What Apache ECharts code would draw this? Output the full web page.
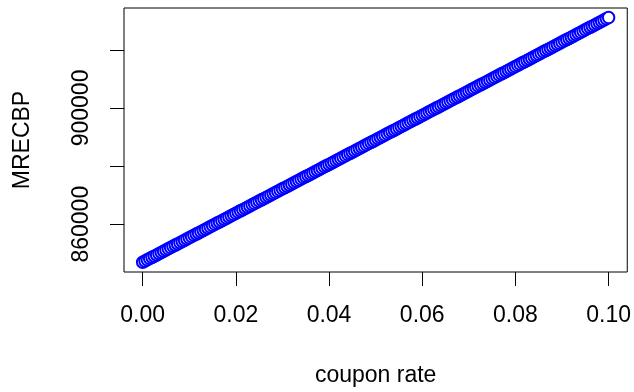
<!DOCTYPE html>
<html>
<head>
<meta charset="utf-8">
<script src="https://cdn.jsdelivr.net/npm/echarts@6/dist/echarts.min.js"></script>
<style>html,body{margin:0;padding:0;background:#fff}#c{width:634px;height:392px}</style>
</head>
<body>
<div id="c"></div>
<script>
var couponRate = [0,0.0005,0.001,0.0015,0.002,0.0025,0.003,0.0035,0.004,0.0045,0.005,0.0055,0.006,0.0065,0.007,0.0075,0.008,0.0085,0.009,0.0095,
0.01,0.0105,0.011,0.0115,0.012,0.0125,0.013,0.0135,0.014,0.0145,0.015,0.0155,0.016,0.0165,0.017,0.0175,0.018,0.0185,0.019,0.0195,
0.02,0.0205,0.021,0.0215,0.022,0.0225,0.023,0.0235,0.024,0.0245,0.025,0.0255,0.026,0.0265,0.027,0.0275,0.028,0.0285,0.029,0.0295,
0.03,0.0305,0.031,0.0315,0.032,0.0325,0.033,0.0335,0.034,0.0345,0.035,0.0355,0.036,0.0365,0.037,0.0375,0.038,0.0385,0.039,0.0395,
0.04,0.0405,0.041,0.0415,0.042,0.0425,0.043,0.0435,0.044,0.0445,0.045,0.0455,0.046,0.0465,0.047,0.0475,0.048,0.0485,0.049,0.0495,
0.05,0.0505,0.051,0.0515,0.052,0.0525,0.053,0.0535,0.054,0.0545,0.055,0.0555,0.056,0.0565,0.057,0.0575,0.058,0.0585,0.059,0.0595,
0.06,0.0605,0.061,0.0615,0.062,0.0625,0.063,0.0635,0.064,0.0645,0.065,0.0655,0.066,0.0665,0.067,0.0675,0.068,0.0685,0.069,0.0695,
0.07,0.0705,0.071,0.0715,0.072,0.0725,0.073,0.0735,0.074,0.0745,0.075,0.0755,0.076,0.0765,0.077,0.0775,0.078,0.0785,0.079,0.0795,
0.08,0.0805,0.081,0.0815,0.082,0.0825,0.083,0.0835,0.084,0.0845,0.085,0.0855,0.086,0.0865,0.087,0.0875,0.088,0.0885,0.089,0.0895,
0.09,0.0905,0.091,0.0915,0.092,0.0925,0.093,0.0935,0.094,0.0945,0.095,0.0955,0.096,0.0965,0.097,0.0975,0.098,0.0985,0.099,0.0995,
0.1];
var mrecbp = [846900,847321,847742,848163,848584,849005,849426,849847,850268,850689,851110,851531,851952,852373,852794,853215,853636,854057,854478,854899,
855320,855741,856162,856583,857004,857425,857846,858267,858688,859109,859530,859951,860372,860793,861214,861635,862056,862477,862898,863319,
863740,864161,864582,865003,865424,865845,866266,866687,867108,867529,867950,868371,868792,869213,869634,870055,870476,870897,871318,871739,
872160,872581,873002,873423,873844,874265,874686,875107,875528,875949,876370,876791,877212,877633,878054,878475,878896,879317,879738,880159,
880580,881001,881422,881843,882264,882685,883106,883527,883948,884369,884790,885211,885632,886053,886474,886895,887316,887737,888158,888579,
889000,889421,889842,890263,890684,891105,891526,891947,892368,892789,893210,893631,894052,894473,894894,895315,895736,896157,896578,896999,
897420,897841,898262,898683,899104,899525,899946,900367,900788,901209,901630,902051,902472,902893,903314,903735,904156,904577,904998,905419,
905840,906261,906682,907103,907524,907945,908366,908787,909208,909629,910050,910471,910892,911313,911734,912155,912576,912997,913418,913839,
914260,914681,915102,915523,915944,916365,916786,917207,917628,918049,918470,918891,919312,919733,920154,920575,920996,921417,921838,922259,
922680,923101,923522,923943,924364,924785,925206,925627,926048,926469,926890,927311,927732,928153,928574,928995,929416,929837,930258,930679,
931100];
var xTicks = [0, 0.02, 0.04, 0.06, 0.08, 0.10];
var xTickLabels = ['0.00', '0.02', '0.04', '0.06', '0.08', '0.10'];
var yTicks = [860000, 880000, 900000, 920000];
var yLabelTicks = [860000, 900000];
var xName = 'coupon rate';
var yName = 'MRECBP';

var points = couponRate.map(function (r, i) { return [r, mrecbp[i]]; });
var font = '"Liberation Sans", Arial, sans-serif';
var chart = echarts.init(document.getElementById('c'));
chart.setOption({
  backgroundColor: '#fff',
  animation: false,
  grid: { left: 124, right: 3, top: 8, bottom: 119, show: true, borderColor: '#000', borderWidth: 1, backgroundColor: 'transparent' },
  xAxis: {
    type: 'value', min: -0.004, max: 0.104,
    splitLine: { show: false },
    axisLine: { show: false, onZero: false },
    axisTick: { show: true, length: 14, lineStyle: { color: '#000' }, customValues: xTicks },
    axisLabel: {
      customValues: xTicks, margin: 32, color: '#000', fontSize: 23, fontFamily: font,
      formatter: function (v) { var i = xTicks.findIndex(function (t) { return Math.abs(t - v) < 1e-9; }); return i >= 0 ? xTickLabels[i] : ''; }
    },
    name: xName, nameLocation: 'middle', nameGap: 92,
    nameTextStyle: { color: '#000', fontSize: 23, fontFamily: font }
  },
  yAxis: {
    type: 'value', min: 843543, max: 934400,
    splitLine: { show: false },
    axisLine: { show: false, onZero: false },
    axisTick: { show: true, length: 14, lineStyle: { color: '#000' }, customValues: yTicks },
    axisLabel: {
      customValues: yLabelTicks, rotate: 90, margin: 31, color: '#000', fontSize: 23, fontFamily: font,
      formatter: function (v) { return String(Math.round(v)); }
    },
    name: yName, nameLocation: 'middle', nameGap: 90, nameRotate: 90,
    nameTextStyle: { color: '#000', fontSize: 23, fontFamily: font }
  },
  series: [{
    type: 'scatter', data: points, symbol: 'emptyCircle', symbolSize: 11.5,
    itemStyle: { color: '#0000ff', borderColor: '#0000ff', borderWidth: 1.6, opacity: 1 },
    emphasis: { disabled: true }
  }]
});
</script>
</body>
</html>
